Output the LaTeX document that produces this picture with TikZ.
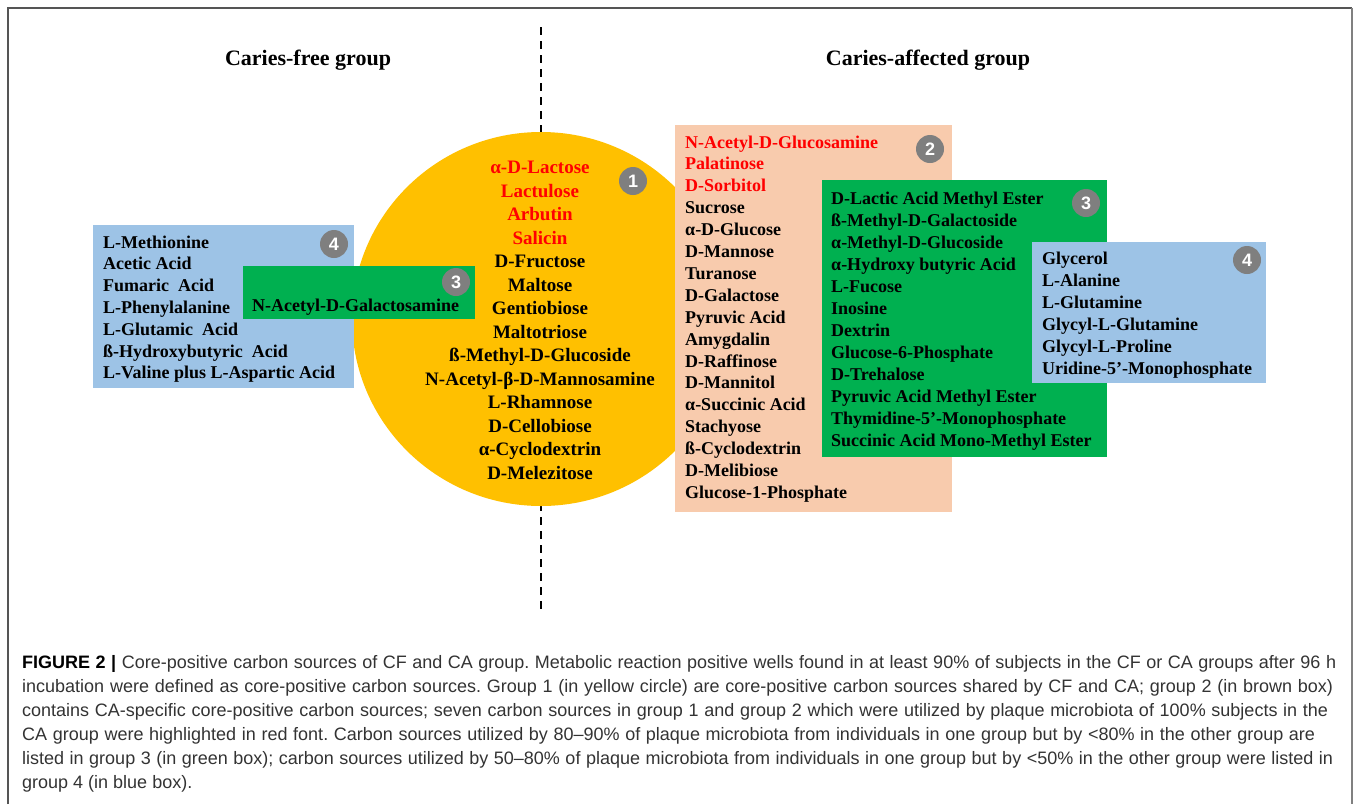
\documentclass[tikz,border=0pt]{standalone}
\usepackage{fontspec}
\setmainfont{Liberation Serif}
\setsansfont{Liberation Sans}
\usetikzlibrary{shapes.geometric}
\definecolor{orng}{HTML}{FFC000}
\definecolor{brwn}{HTML}{F8CBAD}
\definecolor{grn}{HTML}{00B050}
\definecolor{blu}{HTML}{9DC3E6}
\definecolor{badgegray}{HTML}{7F7F7F}
\definecolor{redtxt}{HTML}{FF0000}
\definecolor{captxt}{HTML}{333333}
\definecolor{framegray}{HTML}{555555}
\definecolor{framegrayR}{HTML}{808080}
\frenchspacing
\begin{document}
\begin{tikzpicture}[x=1pt,y=-1pt,
  item/.style={anchor=base west,inner sep=0pt,font=\bfseries\fontsize{18}{22}\selectfont},
  citem/.style={anchor=base,inner sep=0pt,font=\bfseries\fontsize{19}{23}\selectfont},
  badge/.style={circle,fill=badgegray,text=white,minimum size=28pt,inner sep=0pt,font=\sffamily\bfseries\fontsize{18}{18}\selectfont},
  header/.style={anchor=base,inner sep=0pt,font=\bfseries\fontsize{22}{26}\selectfont},
  capline/.style={anchor=base west,inner sep=0pt,text=captxt,font=\sffamily\fontsize{18}{24}\selectfont},
  panel/.style={inner sep=0pt,draw=none,anchor=north west},
  divider/.style={line width=1.5pt,dash pattern=on 8pt off 6pt},
  frameline/.style={line width=2pt,draw=framegray}]
\useasboundingbox (0,0) rectangle (1357,804);
% frame
\coordinate (fbl) at (8,804);
\coordinate (ftl) at (8,8);
\coordinate (ftr) at (1352,8);
\coordinate (fbr) at (1352,804);
\draw[frameline] (fbl) -- (ftl) -- (ftr);
\draw[frameline,draw=framegrayR] (ftr) -- (fbr);
% headers
\node[header] (hcf) at (308,65) {Caries-free group};
\node[header] (hca) at (928,65) {Caries-affected group};
% divider
\coordinate (dtop) at (541,27);
\coordinate (dbot) at (541,610);
\draw[divider] (dtop) -- (dbot);
% shapes
\node[ellipse,fill=orng,minimum width=378pt,minimum height=374pt,inner sep=0pt] (circ) at (541,319) {};
\node[panel,fill=blu,minimum width=261pt,minimum height=163pt] (blueL) at (93,225) {};
\node[panel,fill=grn,minimum width=232pt,minimum height=53pt] (greenL) at (243,266) {};
\node[panel,fill=brwn,minimum width=277pt,minimum height=387pt] (brown) at (675,125) {};
\node[panel,fill=grn,minimum width=285pt,minimum height=277pt] (greenR) at (822,180) {};
\node[panel,fill=blu,minimum width=234pt,minimum height=141pt] (blueR) at (1032,242) {};
% left blue items
\foreach \txt [count=\i] in {L-Methionine,Acetic Acid,Fumaric\ \ Acid,L-Phenylalanine,L-Glutamic\ \ Acid,ß-Hydroxybutyric\ \ Acid,L-Valine plus L-Aspartic Acid}
  \node[item] (bl\i) at (103,{248+21.8*(\i-1)}) {\txt};
\node[item] (gl1) at (252,311) {N-Acetyl-D-Galactosamine};
% circle items
\foreach \txt [count=\i] in {\textcolor{redtxt}{α-D-Lactose},\textcolor{redtxt}{Lactulose},\textcolor{redtxt}{Arbutin},\textcolor{redtxt}{Salicin},D-Fructose,Maltose,Gentiobiose,Maltotriose,ß-Methyl-D-Glucoside,N-Acetyl-β-D-Mannosamine,L-Rhamnose,D-Cellobiose,α-Cyclodextrin,D-Melezitose}
  \node[citem] (ci\i) at (540,{173.5+23.5*(\i-1)}) {\txt};
% brown items
\foreach \txt [count=\i] in {\textcolor{redtxt}{N-Acetyl-D-Glucosamine},\textcolor{redtxt}{Palatinose},\textcolor{redtxt}{D-Sorbitol},Sucrose,α-D-Glucose,D-Mannose,Turanose,D-Galactose,Pyruvic Acid,Amygdalin,D-Raffinose,D-Mannitol,α-Succinic Acid,Stachyose,ß-Cyclodextrin,D-Melibiose,Glucose-1-Phosphate}
  \node[item] (br\i) at (685,{148+21.9*(\i-1)}) {\txt};
% right green items
\foreach \txt [count=\i] in {D-Lactic Acid Methyl Ester,ß-Methyl-D-Galactoside,α-Methyl-D-Glucoside,α-Hydroxy butyric Acid,L-Fucose,Inosine,Dextrin,Glucose-6-Phosphate,D-Trehalose,Pyruvic Acid Methyl Ester,Thymidine-5’-Monophosphate,Succinic Acid Mono-Methyl Ester}
  \node[item] (gr\i) at (831,{204+22*(\i-1)}) {\txt};
% right blue items
\foreach \txt [count=\i] in {Glycerol,L-Alanine,L-Glutamine,Glycyl-L-Glutamine,Glycyl-L-Proline,Uridine-5’-Monophosphate}
  \node[item] (bb\i) at (1042,{264+22*(\i-1)}) {\txt};
% badges
\node[badge] (b1) at (633,181) {1};
\node[badge] (b2) at (930,149) {2};
\node[badge] (b3L) at (456,282) {3};
\node[badge] (b3R) at (1086,203) {3};
\node[badge] (b4L) at (334,244) {4};
\node[badge] (b4R) at (1247,260) {4};
% caption
\node[capline] (cap1) at (22,668) {\makebox[1314pt][s]{\textcolor{black}{\textbf{FIGURE 2 |}} Core-positive carbon sources of CF and CA group. Metabolic reaction positive wells found in at least 90\% of subjects in the CF or CA groups after 96 h}};
\node[capline] (cap2) at (22,692) {\makebox[1311pt][s]{incubation were defined as core-positive carbon sources. Group 1 (in yellow circle) are core-positive carbon sources shared by CF and CA; group 2 (in brown box)}};
\node[capline] (cap3) at (22,716) {\makebox[1306pt][s]{contains CA-specific core-positive carbon sources; seven carbon sources in group 1 and group 2 which were utilized by plaque microbiota of 100\% subjects in the}};
\node[capline] (cap4) at (22,740) {\makebox[1293pt][s]{CA group were highlighted in red font. Carbon sources utilized by 80–90\% of plaque microbiota from individuals in one group but by <80\% in the other group are}};
\node[capline] (cap5) at (22,764) {\makebox[1311pt][s]{listed in group 3 (in green box); carbon sources utilized by 50–80\% of plaque microbiota from individuals in one group but by <50\% in the other group were listed in}};
\node[capline] (cap6) at (22,788) {group 4 (in blue box).};
\end{tikzpicture}
\end{document}
